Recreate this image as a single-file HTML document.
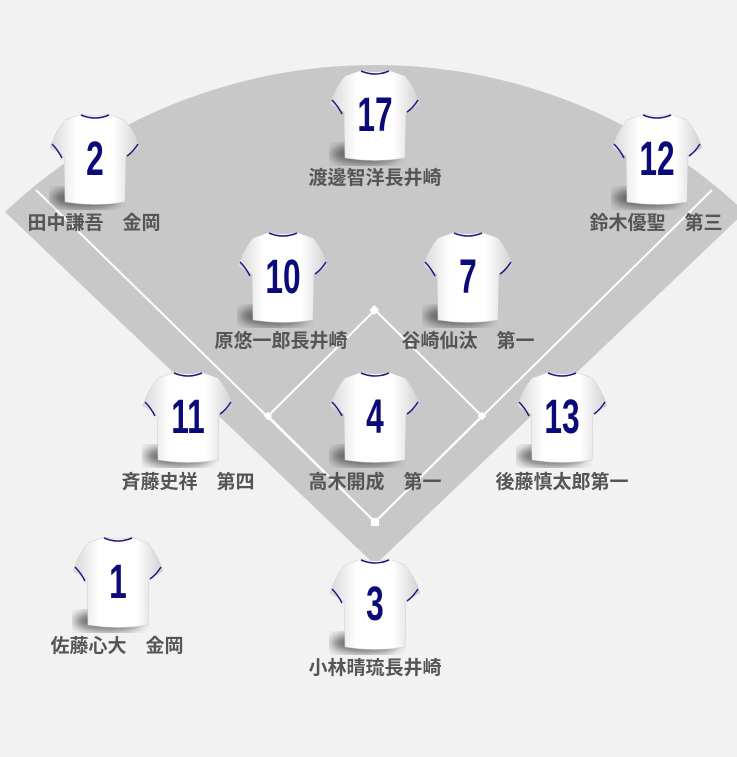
<!DOCTYPE html>
<html><head><meta charset="utf-8"><style>
body{margin:0;width:737px;height:757px;background:#f2f2f2;overflow:hidden;position:relative;font-family:"Liberation Sans","Noto Sans CJK JP",sans-serif}
.l{position:absolute;width:240px;text-align:center;font-size:19px;font-weight:bold;color:#555;white-space:pre}
</style></head><body>
<svg width="737" height="757" style="position:absolute;left:0;top:0">
<defs>
<linearGradient id="g" x1="0" y1="0" x2="1" y2="0">
<stop offset="0" stop-color="#d8d8d8"/><stop offset="0.3" stop-color="#fff"/><stop offset="0.7" stop-color="#fff"/><stop offset="1" stop-color="#d0d0d0"/></linearGradient>
<filter id="b"><feGaussianBlur stdDeviation="5"/></filter>
<symbol id="jer" viewBox="0 0 92 100">
<ellipse cx="36" cy="88" rx="34" ry="10" fill="#444" filter="url(#b)" opacity="0.8"/>
<path d="M33,4 Q46,8 59,4 L76,10 Q86,22 91,38 L77,46 L76,92 Q46,97 16,92 L15,46 L1,38 Q6,22 16,10 Z" fill="url(#g)" stroke="#ccc" stroke-width="0.5"/>
<path d="M32,5 Q46,11 60,5" fill="none" stroke="#1a1a80" stroke-width="1.5"/>
<path d="M3,34 Q9,40 13,48 M89,34 Q84,42 78,46" fill="none" stroke="#1a1a80" stroke-width="1.5"/>
</symbol>
</defs>
<path d="M375,565 L5,212 A539,539 0 0 1 745,212 Z" fill="#c8c8c8"/>
<path d="M36,190 L375,522 L712,190" fill="none" stroke="#fff" stroke-width="2"/>
<path d="M375,310 L268,416 L375,522 L482,416 Z" fill="none" stroke="#fff" stroke-width="2"/>
<rect x="371" y="307" width="7" height="7" fill="#fff" transform="rotate(45 375 310)"/>
<rect x="265" y="413" width="6" height="6" fill="#fff" transform="rotate(45 268 416)"/>
<rect x="479" y="413" width="6" height="6" fill="#fff" transform="rotate(45 482 416)"/>
<rect x="371" y="518" width="8" height="8" fill="#fff"/>
<g font-family="Liberation Sans, sans-serif" font-weight="bold" font-size="48" fill="#0a0a78" text-anchor="middle">
<use href="#jer" x="49" y="110" width="92" height="100"/><text transform="translate(95,175) scale(0.66,1)">2</text>
<use href="#jer" x="329" y="66" width="92" height="100"/><text transform="translate(375,131) scale(0.66,1)">17</text>
<use href="#jer" x="611" y="110" width="92" height="100"/><text transform="translate(657,175) scale(0.66,1)">12</text>
<use href="#jer" x="237" y="228" width="92" height="100"/><text transform="translate(283,293) scale(0.66,1)">10</text>
<use href="#jer" x="422" y="228" width="92" height="100"/><text transform="translate(468,293) scale(0.66,1)">7</text>
<use href="#jer" x="142" y="368" width="92" height="100"/><text transform="translate(188,433) scale(0.66,1)">11</text>
<use href="#jer" x="329" y="368" width="92" height="100"/><text transform="translate(375,433) scale(0.66,1)">4</text>
<use href="#jer" x="516" y="368" width="92" height="100"/><text transform="translate(562,433) scale(0.66,1)">13</text>
<use href="#jer" x="72" y="533" width="92" height="100"/><text transform="translate(118,598) scale(0.66,1)">1</text>
<use href="#jer" x="329" y="555" width="92" height="100"/><text transform="translate(375,620) scale(0.66,1)">3</text>
</g>
</svg>
<div class="l" style="left:-26px;top:208px">田中謙吾　金岡</div>
<div class="l" style="left:255px;top:163px">渡邊智洋長井崎</div>
<div class="l" style="left:536px;top:208px">鈴木優聖　第三</div>
<div class="l" style="left:161px;top:326px">原悠一郎長井崎</div>
<div class="l" style="left:348px;top:326px">谷崎仙汰　第一</div>
<div class="l" style="left:68px;top:467px">斉藤史祥　第四</div>
<div class="l" style="left:255px;top:467px">高木開成　第一</div>
<div class="l" style="left:442px;top:467px">後藤慎太郎第一</div>
<div class="l" style="left:-3px;top:631px">佐藤心大　金岡</div>
<div class="l" style="left:255px;top:653px">小林晴琉長井崎</div>
</body></html>
